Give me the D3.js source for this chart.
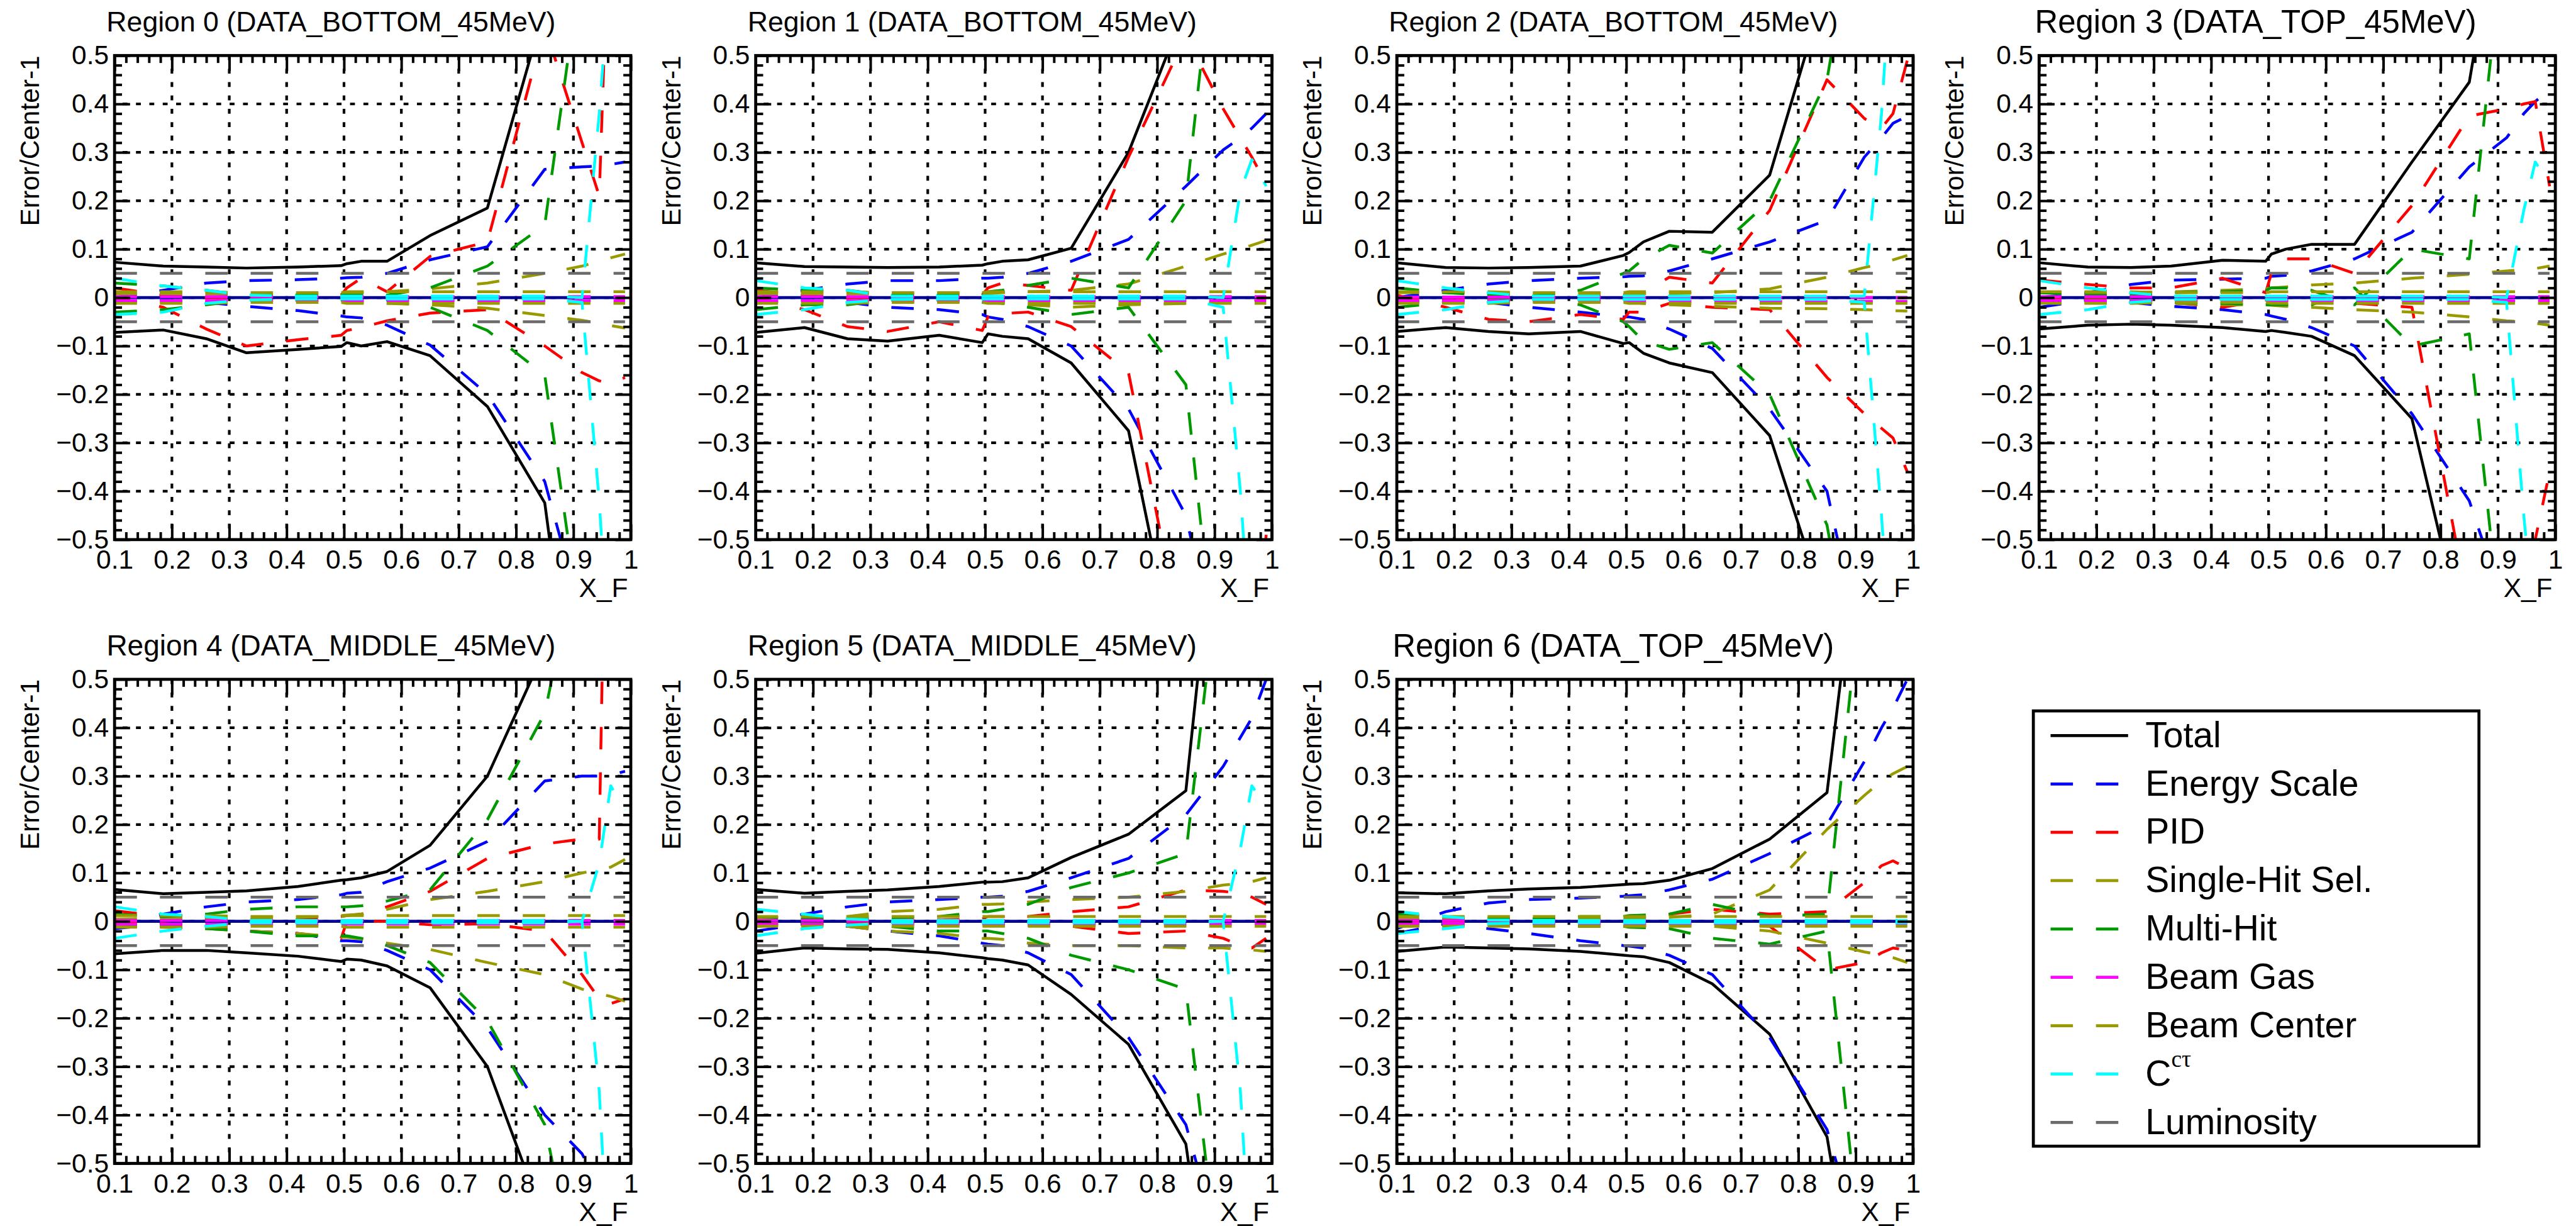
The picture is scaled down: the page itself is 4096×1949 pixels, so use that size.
<!DOCTYPE html>
<html>
<head>
<meta charset="utf-8">
<script src="https://cdn.jsdelivr.net/npm/d3@7"></script>
<style>
  html, body { margin: 0; padding: 0; background: #ffffff; overflow: hidden; }
  svg { display: block; }
</style>
</head>
<body>
<script>
// ---------------------------------------------------------------
// Data: relative systematic uncertainty (Error/Center-1) vs X_F
// ---------------------------------------------------------------
const XF = [0.10, 0.185, 0.26, 0.33, 0.42, 0.495, 0.505, 0.53, 0.575, 0.65, 0.75, 0.85, 0.915, 0.945, 0.965, 0.99];

const REGION_TITLES = [
  "Region 0 (DATA_BOTTOM_45MeV)",
  "Region 1 (DATA_BOTTOM_45MeV)",
  "Region 2 (DATA_BOTTOM_45MeV)",
  "Region 3 (DATA_TOP_45MeV)",
  "Region 4 (DATA_MIDDLE_45MeV)",
  "Region 5 (DATA_MIDDLE_45MeV)",
  "Region 6 (DATA_TOP_45MeV)"
];

const X_MAJOR = [0.1, 0.2, 0.3, 0.4, 0.5, 0.6, 0.7, 0.8, 0.9, 1.0];
const Y_MAJOR = [-0.5, -0.4, -0.3, -0.2, -0.1, 0, 0.1, 0.2, 0.3, 0.4, 0.5];
const X_LABEL = "X_F";
const Y_LABEL = "Error/Center-1";

const CENTRAL = [0, 0, 0, 0, 0, 0, 0, 0, 0, 0, 0, 0, 0, 0, 0, 0];

const TOTAL_UP = [
  [0.073, 0.065, 0.063, 0.061, 0.063, 0.066, 0.070, 0.075, 0.075, 0.128, 0.185, 0.600, 0.95, 1.10, 1.20, 1.30],
  [0.072, 0.064, 0.063, 0.062, 0.063, 0.067, 0.070, 0.075, 0.078, 0.102, 0.300, 0.600, 0.90, 1.10, 1.20, 1.30],
  [0.072, 0.062, 0.061, 0.062, 0.065, 0.087, 0.093, 0.115, 0.137, 0.135, 0.253, 0.650, 0.95, 1.10, 1.20, 1.30],
  [0.072, 0.063, 0.062, 0.065, 0.077, 0.075, 0.090, 0.100, 0.110, 0.110, 0.280, 0.445, 0.90, 1.10, 1.20, 1.30],
  [0.066, 0.057, 0.060, 0.063, 0.072, 0.085, 0.086, 0.090, 0.103, 0.157, 0.300, 0.560, 0.90, 1.10, 1.20, 1.30],
  [0.066, 0.058, 0.062, 0.065, 0.072, 0.081, 0.081, 0.082, 0.090, 0.132, 0.180, 0.270, 1.00, 1.20, 1.30, 1.40],
  [0.059, 0.057, 0.063, 0.067, 0.070, 0.076, 0.077, 0.078, 0.085, 0.109, 0.170, 0.266, 0.90, 1.20, 1.30, 1.40]
];
const TOTAL_DN = [
  [-0.072, -0.067, -0.085, -0.114, -0.107, -0.101, -0.093, -0.100, -0.091, -0.120, -0.225, -0.424, -1.00, -1.10, -1.20, -1.30],
  [-0.072, -0.062, -0.085, -0.090, -0.078, -0.093, -0.075, -0.080, -0.085, -0.135, -0.275, -0.850, -1.20, -1.30, -1.30, -1.40],
  [-0.070, -0.062, -0.070, -0.075, -0.070, -0.095, -0.093, -0.115, -0.135, -0.155, -0.285, -0.650, -1.00, -1.10, -1.20, -1.30],
  [-0.065, -0.057, -0.055, -0.057, -0.062, -0.070, -0.068, -0.072, -0.080, -0.120, -0.250, -0.750, -1.20, -1.30, -1.30, -1.40],
  [-0.067, -0.060, -0.060, -0.065, -0.072, -0.083, -0.078, -0.080, -0.092, -0.137, -0.300, -0.620, -1.00, -1.10, -1.20, -1.30],
  [-0.066, -0.055, -0.057, -0.058, -0.065, -0.075, -0.077, -0.080, -0.090, -0.151, -0.254, -0.460, -1.00, -1.20, -1.30, -1.40],
  [-0.062, -0.053, -0.055, -0.057, -0.062, -0.070, -0.071, -0.073, -0.085, -0.129, -0.233, -0.445, -0.90, -1.20, -1.30, -1.40]
];

const ENERGY_UP = [
  [0.000, 0.015, 0.030, 0.035, 0.037, 0.040, 0.041, 0.042, 0.050, 0.078, 0.105, 0.265, 0.270, 0.272, 0.275, 0.280],
  [0.000, 0.015, 0.028, 0.035, 0.035, 0.040, 0.040, 0.042, 0.050, 0.075, 0.120, 0.230, 0.305, 0.330, 0.350, 0.380],
  [0.000, 0.015, 0.028, 0.035, 0.040, 0.043, 0.044, 0.045, 0.055, 0.080, 0.115, 0.160, 0.290, 0.330, 0.360, 0.375],
  [0.000, 0.010, 0.027, 0.036, 0.038, 0.040, 0.044, 0.046, 0.055, 0.080, 0.135, 0.270, 0.330, 0.380, 0.405, 0.430],
  [-0.005, 0.015, 0.030, 0.040, 0.045, 0.055, 0.058, 0.060, 0.082, 0.110, 0.165, 0.290, 0.300, 0.300, 0.302, 0.310],
  [-0.005, 0.015, 0.030, 0.040, 0.045, 0.050, 0.050, 0.052, 0.062, 0.090, 0.130, 0.220, 0.320, 0.380, 0.420, 0.500],
  [-0.015, 0.020, 0.038, 0.045, 0.048, 0.052, 0.053, 0.055, 0.065, 0.087, 0.140, 0.200, 0.330, 0.400, 0.440, 0.500]
];
const ENERGY_DN = [
  [-0.010, -0.005, -0.010, -0.018, -0.027, -0.038, -0.040, -0.042, -0.057, -0.098, -0.200, -0.380, -0.660, -0.800, -0.900, -1.000],
  [-0.010, -0.005, -0.010, -0.020, -0.025, -0.035, -0.040, -0.045, -0.060, -0.100, -0.230, -0.450, -0.800, -0.900, -1.000, -1.100],
  [-0.010, -0.005, -0.010, -0.020, -0.030, -0.040, -0.040, -0.045, -0.065, -0.105, -0.230, -0.400, -0.750, -0.900, -1.000, -1.100],
  [-0.020, -0.005, -0.010, -0.018, -0.025, -0.035, -0.038, -0.045, -0.062, -0.100, -0.240, -0.420, -0.650, -0.800, -0.900, -1.000],
  [-0.015, -0.005, -0.010, -0.020, -0.025, -0.040, -0.040, -0.042, -0.060, -0.100, -0.220, -0.400, -0.480, -0.550, -0.600, -0.700],
  [-0.020, -0.005, -0.010, -0.020, -0.030, -0.045, -0.047, -0.050, -0.065, -0.110, -0.240, -0.420, -0.700, -0.900, -1.000, -1.100],
  [-0.025, -0.005, -0.015, -0.025, -0.040, -0.050, -0.051, -0.055, -0.070, -0.110, -0.240, -0.430, -0.700, -0.900, -1.000, -1.100]
];

const PID_UP = [
  [0.020, 0.005, 0.000, 0.000, 0.000, 0.005, 0.020, 0.040, 0.012, 0.085, 0.115, 0.560, 0.320, 0.210, 0.900, 1.000],
  [0.015, 0.005, 0.000, 0.000, 0.000, 0.005, 0.020, 0.030, 0.025, 0.015, 0.290, 0.540, 0.390, 0.330, 0.290, 0.235],
  [0.000, 0.000, 0.000, 0.000, 0.000, 0.005, 0.010, 0.010, 0.042, 0.030, 0.180, 0.450, 0.370, 0.350, 0.380, 0.490],
  [0.036, 0.027, 0.020, 0.020, 0.040, 0.010, 0.050, 0.080, 0.080, 0.050, 0.190, 0.375, 0.390, 0.400, 0.405, 0.230],
  [0.022, 0.010, 0.005, 0.003, 0.003, 0.010, 0.012, 0.015, 0.030, 0.062, 0.130, 0.160, 0.170, 0.170, 1.500, 1.500],
  [0.010, 0.005, 0.003, 0.003, 0.003, 0.005, 0.010, 0.010, 0.010, 0.020, 0.030, 0.065, 0.062, 0.058, 0.050, 0.035],
  [0.003, 0.003, 0.003, 0.003, 0.003, 0.003, 0.005, 0.010, 0.015, 0.025, 0.015, 0.020, 0.080, 0.115, 0.125, 0.110]
];
const PID_DN = [
  [0.000, -0.020, -0.065, -0.100, -0.087, -0.078, -0.068, -0.062, -0.048, -0.032, -0.025, -0.100, -0.155, -0.172, -0.178, -0.165],
  [0.000, -0.025, -0.060, -0.070, -0.050, -0.068, -0.040, -0.033, -0.030, -0.060, -0.155, -0.750, -1.000, -1.000, -0.800, -0.490],
  [0.005, -0.020, -0.045, -0.050, -0.035, -0.045, -0.030, -0.030, -0.012, -0.020, -0.025, -0.165, -0.240, -0.270, -0.290, -0.360],
  [0.000, 0.000, -0.005, -0.010, -0.020, -0.005, -0.005, -0.005, -0.005, -0.012, -0.020, -0.650, -0.900, -0.800, -0.500, -0.360],
  [0.000, -0.005, -0.010, -0.020, -0.025, -0.035, 0.000, 0.000, 0.000, -0.007, -0.005, -0.020, -0.110, -0.160, -0.170, -0.160],
  [-0.005, -0.005, -0.003, -0.003, -0.003, -0.005, -0.008, -0.008, -0.008, -0.010, -0.025, -0.020, -0.035, -0.050, -0.055, -0.035],
  [-0.003, -0.003, -0.003, -0.005, -0.010, -0.010, -0.010, -0.010, -0.005, -0.005, -0.010, -0.100, -0.085, -0.065, -0.055, -0.060]
];

const SINGLE_UP = [
  [0.008, 0.008, 0.008, 0.006, 0.006, 0.008, 0.008, 0.010, 0.012, 0.018, 0.030, 0.050, 0.065, 0.075, 0.082, 0.090],
  [0.008, 0.008, 0.008, 0.008, 0.008, 0.008, 0.008, 0.010, 0.012, 0.015, 0.028, 0.065, 0.090, 0.100, 0.108, 0.118],
  [0.010, 0.010, 0.008, 0.008, 0.008, 0.008, 0.008, 0.008, 0.008, 0.010, 0.018, 0.042, 0.062, 0.070, 0.078, 0.087],
  [0.010, 0.010, 0.010, 0.012, 0.015, 0.018, 0.020, 0.022, 0.026, 0.030, 0.040, 0.048, 0.055, 0.058, 0.060, 0.065],
  [0.005, 0.006, 0.007, 0.008, 0.008, 0.012, 0.013, 0.015, 0.025, 0.045, 0.062, 0.082, 0.100, 0.107, 0.112, 0.128],
  [0.005, 0.005, 0.010, 0.020, 0.025, 0.035, 0.035, 0.036, 0.040, 0.045, 0.050, 0.062, 0.075, 0.078, 0.082, 0.090],
  [0.005, 0.005, 0.005, 0.005, 0.005, 0.006, 0.006, 0.007, 0.008, 0.015, 0.065, 0.190, 0.260, 0.290, 0.305, 0.320]
];
const SINGLE_DN = [
  [-0.008, -0.008, -0.008, -0.006, -0.006, -0.008, -0.008, -0.010, -0.012, -0.015, -0.022, -0.037, -0.047, -0.053, -0.058, -0.063],
  [-0.008, -0.008, -0.008, -0.008, -0.008, -0.008, -0.008, -0.010, -0.015, -0.020, -0.015, -0.012, -0.010, -0.009, -0.008, 0.000],
  [-0.010, -0.010, -0.008, -0.008, -0.008, -0.008, -0.010, -0.012, -0.015, -0.018, -0.022, -0.023, -0.025, -0.026, -0.027, -0.028],
  [-0.010, -0.010, -0.010, -0.012, -0.015, -0.015, -0.016, -0.018, -0.020, -0.025, -0.030, -0.040, -0.048, -0.050, -0.053, -0.057],
  [-0.010, -0.012, -0.015, -0.020, -0.025, -0.033, -0.033, -0.036, -0.045, -0.058, -0.085, -0.110, -0.140, -0.150, -0.155, -0.165],
  [-0.005, -0.005, -0.010, -0.020, -0.025, -0.035, -0.035, -0.037, -0.045, -0.050, -0.050, -0.055, -0.055, -0.058, -0.059, -0.062],
  [-0.005, -0.005, -0.005, -0.005, -0.005, -0.006, -0.006, -0.007, -0.008, -0.010, -0.020, -0.045, -0.063, -0.070, -0.075, -0.085]
];

const MULTI_UP = [
  [0.030, 0.024, 0.015, 0.005, 0.005, 0.005, 0.005, 0.005, 0.005, 0.020, 0.065, 0.150, 0.700, 1.000, 1.100, 1.200],
  [0.020, 0.015, 0.015, 0.005, 0.005, 0.010, 0.012, 0.015, 0.025, 0.040, 0.020, 0.200, 0.900, 1.100, 1.200, 1.300],
  [0.020, 0.010, 0.005, 0.002, 0.015, 0.050, 0.055, 0.080, 0.108, 0.092, 0.200, 0.450, 0.900, 1.100, 1.200, 1.300],
  [0.010, 0.005, 0.005, 0.010, 0.012, 0.015, 0.020, 0.020, 0.015, -0.015, 0.100, 0.080, 0.800, 1.000, 1.100, 1.200],
  [0.015, 0.010, 0.015, 0.025, 0.030, 0.030, 0.030, 0.032, 0.042, 0.065, 0.210, 0.430, 0.800, 1.000, 1.100, 1.200],
  [0.010, 0.005, 0.005, 0.008, 0.010, 0.020, 0.020, 0.025, 0.035, 0.070, 0.100, 0.140, 0.800, 1.000, 1.100, 1.200],
  [0.015, 0.010, 0.005, 0.005, 0.010, 0.010, 0.012, 0.013, 0.015, 0.035, 0.010, 0.015, 0.750, 1.000, 1.100, 1.200]
];
const MULTI_DN = [
  [-0.030, -0.025, -0.015, -0.005, -0.005, -0.005, -0.005, -0.005, -0.005, -0.020, -0.068, -0.160, -0.700, -1.000, -1.100, -1.200],
  [-0.025, -0.015, -0.015, -0.005, -0.005, -0.010, -0.010, -0.012, -0.020, -0.035, -0.020, -0.180, -0.900, -1.100, -1.200, -1.300],
  [-0.020, -0.010, -0.005, -0.002, -0.015, -0.050, -0.060, -0.090, -0.107, -0.093, -0.200, -0.470, -0.900, -1.100, -1.200, -1.300],
  [-0.010, -0.005, -0.005, -0.010, -0.012, -0.015, -0.015, -0.015, -0.015, 0.020, -0.100, -0.075, -0.800, -1.000, -1.100, -1.200],
  [-0.005, -0.010, -0.015, -0.020, -0.030, -0.030, -0.030, -0.035, -0.050, -0.085, -0.205, -0.420, -0.800, -1.000, -1.100, -1.200],
  [-0.010, -0.005, -0.005, -0.010, -0.020, -0.020, -0.020, -0.025, -0.035, -0.070, -0.100, -0.140, -0.800, -1.000, -1.100, -1.200],
  [-0.010, -0.008, -0.005, -0.005, -0.010, -0.010, -0.012, -0.013, -0.015, -0.035, -0.047, -0.020, -0.750, -1.000, -1.100, -1.200]
];

const GAS_UP = [
  [0.002, 0.002, 0.002, 0.002, 0.002, 0.002, 0.002, 0.002, 0.002, 0.002, 0.002, 0.002, 0.002, 0.002, 0.002, 0.002],
  [0.002, 0.002, 0.002, 0.002, 0.002, 0.002, 0.002, 0.002, 0.002, 0.002, 0.002, 0.002, 0.002, 0.002, 0.002, 0.002],
  [0.001, 0.001, 0.001, 0.001, 0.001, 0.001, 0.001, 0.000, 0.000, 0.000, 0.000, 0.000, 0.000, 0.000, 0.000, 0.000],
  [0.002, 0.002, 0.002, 0.002, 0.002, 0.002, 0.002, 0.002, 0.002, 0.002, 0.002, 0.002, 0.002, 0.002, 0.002, 0.002],
  [0.002, 0.002, 0.002, 0.002, 0.002, 0.002, 0.002, 0.002, 0.002, 0.002, 0.002, 0.002, 0.002, 0.002, 0.002, 0.002],
  [0.002, 0.002, 0.002, 0.002, 0.002, 0.002, 0.002, 0.002, 0.002, 0.002, 0.002, 0.002, 0.002, 0.002, 0.002, 0.002],
  [0.002, 0.002, 0.002, 0.002, 0.002, 0.002, 0.002, 0.002, 0.002, 0.002, 0.002, 0.002, 0.002, 0.002, 0.002, 0.002]
];
const GAS_DN = [
  [-0.006, -0.006, -0.006, -0.006, -0.006, -0.006, -0.006, -0.006, -0.006, -0.006, -0.006, -0.006, -0.006, -0.006, -0.006, -0.006],
  [-0.006, -0.006, -0.006, -0.006, -0.006, -0.006, -0.006, -0.006, -0.006, -0.006, -0.006, -0.006, -0.006, -0.006, -0.006, -0.006],
  [-0.006, -0.006, -0.006, -0.006, -0.006, -0.006, -0.007, -0.008, -0.008, -0.008, -0.008, -0.008, -0.008, -0.008, -0.008, -0.008],
  [-0.006, -0.006, -0.006, -0.006, -0.006, -0.006, -0.006, -0.006, -0.006, -0.006, -0.006, -0.006, -0.006, -0.006, -0.006, -0.006],
  [-0.006, -0.006, -0.006, -0.006, -0.006, -0.006, -0.006, -0.006, -0.006, -0.006, -0.006, -0.006, -0.006, -0.006, -0.006, -0.006],
  [-0.006, -0.006, -0.006, -0.006, -0.006, -0.006, -0.006, -0.006, -0.006, -0.006, -0.006, -0.006, -0.006, -0.006, -0.006, -0.006],
  [-0.005, -0.005, -0.005, -0.005, -0.005, -0.005, -0.005, -0.005, -0.005, -0.005, -0.005, -0.005, -0.005, -0.005, -0.005, -0.005]
];

const CENTER_UP = [
  [0.012, 0.012, 0.012, 0.010, 0.010, 0.010, 0.012, 0.012, 0.012, 0.012, 0.012, 0.012, 0.012, 0.012, 0.012, 0.012],
  [0.012, 0.012, 0.012, 0.010, 0.010, 0.010, 0.012, 0.012, 0.012, 0.012, 0.012, 0.012, 0.012, 0.012, 0.012, 0.012],
  [0.012, 0.012, 0.012, 0.010, 0.010, 0.010, 0.012, 0.012, 0.012, 0.012, 0.012, 0.012, 0.012, 0.012, 0.012, 0.012],
  [0.012, 0.012, 0.012, 0.010, 0.010, 0.010, 0.012, 0.012, 0.012, 0.012, 0.012, 0.012, 0.012, 0.012, 0.012, 0.012],
  [0.012, 0.012, 0.012, 0.010, 0.010, 0.010, 0.012, 0.012, 0.012, 0.012, 0.012, 0.012, 0.012, 0.012, 0.012, 0.012],
  [0.010, 0.010, 0.010, 0.010, 0.010, 0.010, 0.010, 0.010, 0.010, 0.010, 0.010, 0.010, 0.010, 0.010, 0.010, 0.010],
  [0.010, 0.010, 0.010, 0.010, 0.010, 0.010, 0.010, 0.010, 0.010, 0.010, 0.010, 0.010, 0.010, 0.010, 0.010, 0.010]
];
const CENTER_DN = [
  [-0.012, -0.012, -0.012, -0.010, -0.010, -0.010, -0.012, -0.012, -0.012, -0.012, -0.012, -0.012, -0.012, -0.012, -0.012, -0.012],
  [-0.012, -0.012, -0.012, -0.010, -0.010, -0.010, -0.012, -0.012, -0.012, -0.012, -0.012, -0.012, -0.012, -0.012, -0.012, -0.012],
  [-0.012, -0.012, -0.012, -0.010, -0.010, -0.010, -0.012, -0.012, -0.012, -0.012, -0.012, -0.012, -0.012, -0.012, -0.012, -0.012],
  [-0.012, -0.012, -0.012, -0.010, -0.010, -0.010, -0.012, -0.012, -0.012, -0.012, -0.012, -0.012, -0.012, -0.012, -0.012, -0.012],
  [-0.012, -0.012, -0.012, -0.010, -0.010, -0.010, -0.012, -0.012, -0.012, -0.012, -0.012, -0.012, -0.012, -0.012, -0.012, -0.012],
  [-0.010, -0.010, -0.010, -0.010, -0.010, -0.010, -0.010, -0.010, -0.010, -0.010, -0.010, -0.010, -0.010, -0.010, -0.010, -0.010],
  [-0.010, -0.010, -0.010, -0.010, -0.010, -0.010, -0.010, -0.010, -0.010, -0.010, -0.010, -0.010, -0.010, -0.010, -0.010, -0.010]
];

const CCT_UP = [
  [0.040, 0.024, 0.015, 0.005, 0.003, 0.003, 0.003, 0.003, 0.003, 0.003, 0.003, 0.003, 0.000, 0.380, 0.700, 0.900],
  [0.035, 0.020, 0.015, 0.003, 0.003, 0.003, 0.003, 0.003, 0.003, 0.003, 0.003, 0.003, 0.000, 0.220, 0.285, 0.230],
  [0.035, 0.020, 0.010, 0.003, 0.003, 0.003, 0.003, 0.003, 0.003, 0.003, 0.003, 0.003, 0.003, 0.380, 0.750, 0.900],
  [0.035, 0.020, 0.010, 0.003, 0.003, 0.003, 0.003, 0.003, 0.003, 0.003, 0.003, 0.003, 0.000, 0.180, 0.280, 0.235],
  [0.030, 0.015, 0.010, 0.002, 0.002, 0.002, 0.002, 0.002, 0.002, 0.002, 0.002, 0.002, 0.000, 0.120, 0.280, 0.230],
  [0.025, 0.015, 0.005, 0.002, 0.002, 0.002, 0.002, 0.002, 0.002, 0.002, 0.002, 0.002, 0.000, 0.150, 0.280, 0.235],
  [0.020, 0.010, 0.003, 0.002, 0.002, 0.002, 0.002, 0.002, 0.002, 0.002, 0.002, 0.002, 0.002, 0.002, 0.002, 0.002]
];
const CCT_DN = [
  [-0.035, -0.030, -0.012, -0.005, -0.003, -0.003, -0.003, -0.003, -0.003, -0.003, -0.003, -0.003, -0.010, -0.420, -0.800, -0.900],
  [-0.035, -0.025, -0.010, -0.004, -0.003, -0.003, -0.003, -0.003, -0.003, -0.003, -0.003, -0.003, -0.020, -0.400, -0.750, -0.900],
  [-0.035, -0.025, -0.010, -0.004, -0.004, -0.004, -0.004, -0.004, -0.004, -0.004, -0.004, -0.004, -0.010, -0.450, -0.800, -0.900],
  [-0.035, -0.025, -0.010, -0.004, -0.004, -0.004, -0.004, -0.004, -0.004, -0.004, -0.004, -0.004, -0.010, -0.450, -0.700, -0.900],
  [-0.035, -0.020, -0.010, -0.003, -0.003, -0.003, -0.003, -0.003, -0.003, -0.003, -0.003, -0.003, 0.000, -0.350, -0.800, -0.900],
  [-0.030, -0.015, -0.008, -0.003, -0.003, -0.003, -0.003, -0.003, -0.003, -0.003, -0.003, -0.003, 0.000, -0.350, -0.750, -0.900],
  [-0.025, -0.015, -0.005, -0.003, -0.003, -0.003, -0.003, -0.003, -0.003, -0.003, -0.003, -0.003, -0.003, -0.003, -0.003, -0.003]
];

const LUMI_UP = [0.05, 0.05, 0.05, 0.05, 0.05, 0.05, 0.05, 0.05, 0.05, 0.05, 0.05, 0.05, 0.05, 0.05, 0.05, 0.05];
const LUMI_DN = [-0.05, -0.05, -0.05, -0.05, -0.05, -0.05, -0.05, -0.05, -0.05, -0.05, -0.05, -0.05, -0.05, -0.05, -0.05, -0.05];

const LEGEND_LABELS = ["Total", "Energy Scale", "PID", "Single-Hit Sel.", "Multi-Hit", "Beam Gas", "Beam Center", "C|c\u03c4", "Luminosity"];

// ---------------------------------------------------------------
// Styles and layout (drawn in 4486 x 2135 units, scaled by viewBox)
// ---------------------------------------------------------------
const W = 4486, H = 2135;
const FONT = "'Liberation Sans', Arial, Helvetica, sans-serif";
const DASH = "39 40";
const LW = 4.9;

const SERIES = [
  { up: TOTAL_UP,  dn: TOTAL_DN,  color: "#000000", dash: null, width: LW },
  { up: ENERGY_UP, dn: ENERGY_DN, color: "#0000ff", dash: DASH, width: LW },
  { up: PID_UP,    dn: PID_DN,    color: "#ff0000", dash: DASH, width: LW },
  { up: SINGLE_UP, dn: SINGLE_DN, color: "#999900", dash: DASH, width: LW },
  { up: MULTI_UP,  dn: MULTI_DN,  color: "#009900", dash: DASH, width: LW },
  { up: GAS_UP,    dn: GAS_DN,    color: "#ff00ff", dash: DASH, width: LW },
  { up: CENTER_UP, dn: CENTER_DN, color: "#999900", dash: DASH, width: LW },
  { up: CCT_UP,    dn: CCT_DN,    color: "#00ffff", dash: DASH, width: LW },
  { up: null,      dn: null,      color: "#6a6a6a", dash: DASH, width: LW, lumi: true }
];

const COL_LEFT = [199.5, 1316, 2432.5, 3551];
const ROW_TOP = [96.7, 1183];
const FW = 899, FH = 843;
const TICK_MAJOR = 27, TICK_MINOR = 13;

const svg = d3.select("body").append("svg")
  .attr("width", 4096).attr("height", 1949)
  .attr("viewBox", `0 0 ${W} ${H}`)
  .attr("preserveAspectRatio", "none");

svg.append("rect").attr("width", W).attr("height", H).attr("fill", "#ffffff");

const fmtX = d => (Math.abs(d - 1) < 1e-9 ? "1" : d3.format(".1f")(d));
const fmtY = d => (Math.abs(d) < 1e-9 ? "0" : d3.format(".1f")(d));
const X_MINOR = d3.range(5, 51).map(k => k / 50).filter(v => !X_MAJOR.some(m => Math.abs(m - v) < 1e-9));
const Y_MINOR = d3.range(-25, 26).map(k => k / 50).filter(v => !Y_MAJOR.some(m => Math.abs(m - v) < 1e-9));

function styleAxis(g, fontSize) {
  g.select(".domain").remove();
  g.selectAll(".tick line").attr("stroke", "#000").attr("stroke-width", 4.4);
  g.attr("font-family", FONT).attr("font-size", fontSize);
  g.selectAll(".tick text").attr("fill", "#000");
}

REGION_TITLES.forEach((title, p) => {
  const L = COL_LEFT[p % 4];
  const T = ROW_TOP[Math.floor(p / 4)];
  const x = d3.scaleLinear().domain([0.1, 1.0]).range([L, L + FW]);
  const y = d3.scaleLinear().domain([-0.5, 0.5]).range([T + FH, T]);
  const g = svg.append("g").attr("class", "pad");

  // dotted grid
  const grid = g.append("g").attr("stroke", "#000").attr("stroke-width", 4.6)
    .attr("stroke-dasharray", "8.5 14.8");
  grid.selectAll("line.gx").data(X_MAJOR.slice(1, -1)).join("line")
    .attr("x1", d => x(d)).attr("x2", d => x(d))
    .attr("y1", T + FH).attr("y2", T)
    .attr("stroke-dashoffset", 4);
  grid.selectAll("line.gy").data(Y_MAJOR.slice(1, -1)).join("line")
    .attr("x1", L).attr("x2", L + FW)
    .attr("y1", d => y(d)).attr("y2", d => y(d))
    .attr("stroke-dashoffset", 9.3);

  // curves, clipped to the frame
  const clipId = `clip${p}`;
  g.append("clipPath").attr("id", clipId).append("rect")
    .attr("x", L).attr("y", T).attr("width", FW).attr("height", FH);
  const plot = g.append("g").attr("clip-path", `url(#${clipId})`);
  const line = d3.line().x((d, i) => x(XF[i])).y(d => y(d));

  plot.append("path").attr("d", line(CENTRAL))
    .attr("fill", "none").attr("stroke", "#000099").attr("stroke-width", LW + 0.3);

  SERIES.forEach(s => {
    const rows = s.lumi ? [LUMI_UP, LUMI_DN] : [s.up[p], s.dn[p]];
    rows.forEach(vals => {
      plot.append("path").attr("d", line(vals))
        .attr("fill", "none").attr("stroke", s.color)
        .attr("stroke-width", s.width)
        .attr("stroke-dasharray", s.dash)
        .attr("stroke-linejoin", "round");
    });
  });

  // axes: ticks inward on all four sides
  const ax = (axis, tr, size, vals, fmt, pad) => {
    const a = g.append("g").attr("transform", tr)
      .call(axis.tickValues(vals).tickSize(size).tickPadding(pad).tickFormat(fmt));
    styleAxis(a, 46.5);
    return a;
  };
  ax(d3.axisBottom(x), `translate(0,${T + FH})`, -TICK_MAJOR, X_MAJOR, fmtX, 17.5);
  ax(d3.axisBottom(x), `translate(0,${T + FH})`, -TICK_MINOR, X_MINOR, () => "", 0);
  ax(d3.axisTop(x), `translate(0,${T})`, -TICK_MAJOR, X_MAJOR, () => "", 0);
  ax(d3.axisTop(x), `translate(0,${T})`, -TICK_MINOR, X_MINOR, () => "", 0);
  ax(d3.axisLeft(y), `translate(${L},0)`, -TICK_MAJOR, Y_MAJOR, fmtY, 10);
  ax(d3.axisLeft(y), `translate(${L},0)`, -TICK_MINOR, Y_MINOR, () => "", 0);
  ax(d3.axisRight(y), `translate(${L + FW},0)`, -TICK_MAJOR, Y_MAJOR, () => "", 0);
  ax(d3.axisRight(y), `translate(${L + FW},0)`, -TICK_MINOR, Y_MINOR, () => "", 0);

  // frame
  g.append("rect").attr("x", L).attr("y", T).attr("width", FW).attr("height", FH)
    .attr("fill", "none").attr("stroke", "#000").attr("stroke-width", 5.2);

  // axis titles
  g.append("text").text(X_LABEL)
    .attr("x", L + FW - 5).attr("y", T + FH + 100)
    .attr("text-anchor", "end").attr("font-family", FONT).attr("font-size", 46.5);
  g.append("text").text(Y_LABEL)
    .attr("transform", `translate(${L - 131.5},${T}) rotate(-90)`)
    .attr("text-anchor", "end").attr("font-family", FONT).attr("font-size", 46.5);

  // pad title, shrunk to fit its box
  const t = g.append("text").text(title)
    .attr("text-anchor", "middle").attr("font-family", FONT).attr("font-size", 100);
  const len = t.node().getComputedTextLength();
  const fs = Math.min(55.8, 782 * 100 / len);
  t.attr("font-size", fs).attr("x", L + 377).attr("y", T - 59.2 + 0.358 * fs);
});

// ---------------------------------------------------------------
// Legend
// ---------------------------------------------------------------
const LEG = { x: 3541, y: 1238, w: 776, h: 758, row0: 1281, step: 84.2, lx0: 3571, lx1: 3706, tx: 3736, fs: 62.5 };
const leg = svg.append("g");
leg.append("rect").attr("x", LEG.x).attr("y", LEG.y).attr("width", LEG.w).attr("height", LEG.h)
  .attr("fill", "#fff").attr("stroke", "#000").attr("stroke-width", 5.2);

SERIES.forEach((s, i) => {
  const cy = LEG.row0 + i * LEG.step;
  leg.append("line").attr("x1", LEG.lx0).attr("x2", LEG.lx1).attr("y1", cy).attr("y2", cy)
    .attr("stroke", s.color).attr("stroke-width", s.width + 0.3).attr("stroke-dasharray", s.dash);
  const txt = leg.append("text").attr("x", LEG.tx).attr("y", cy + 20)
    .attr("font-family", FONT).attr("font-size", LEG.fs);
  const parts = LEGEND_LABELS[i].split("|");
  txt.append("tspan").text(parts[0]);
  if (parts.length > 1) {
    txt.append("tspan").text(parts[1]).attr("dy", -33)
      .attr("font-size", 41).attr("font-family", "'Liberation Serif', 'DejaVu Serif', serif");
  }
});
</script>
</body>
</html>
